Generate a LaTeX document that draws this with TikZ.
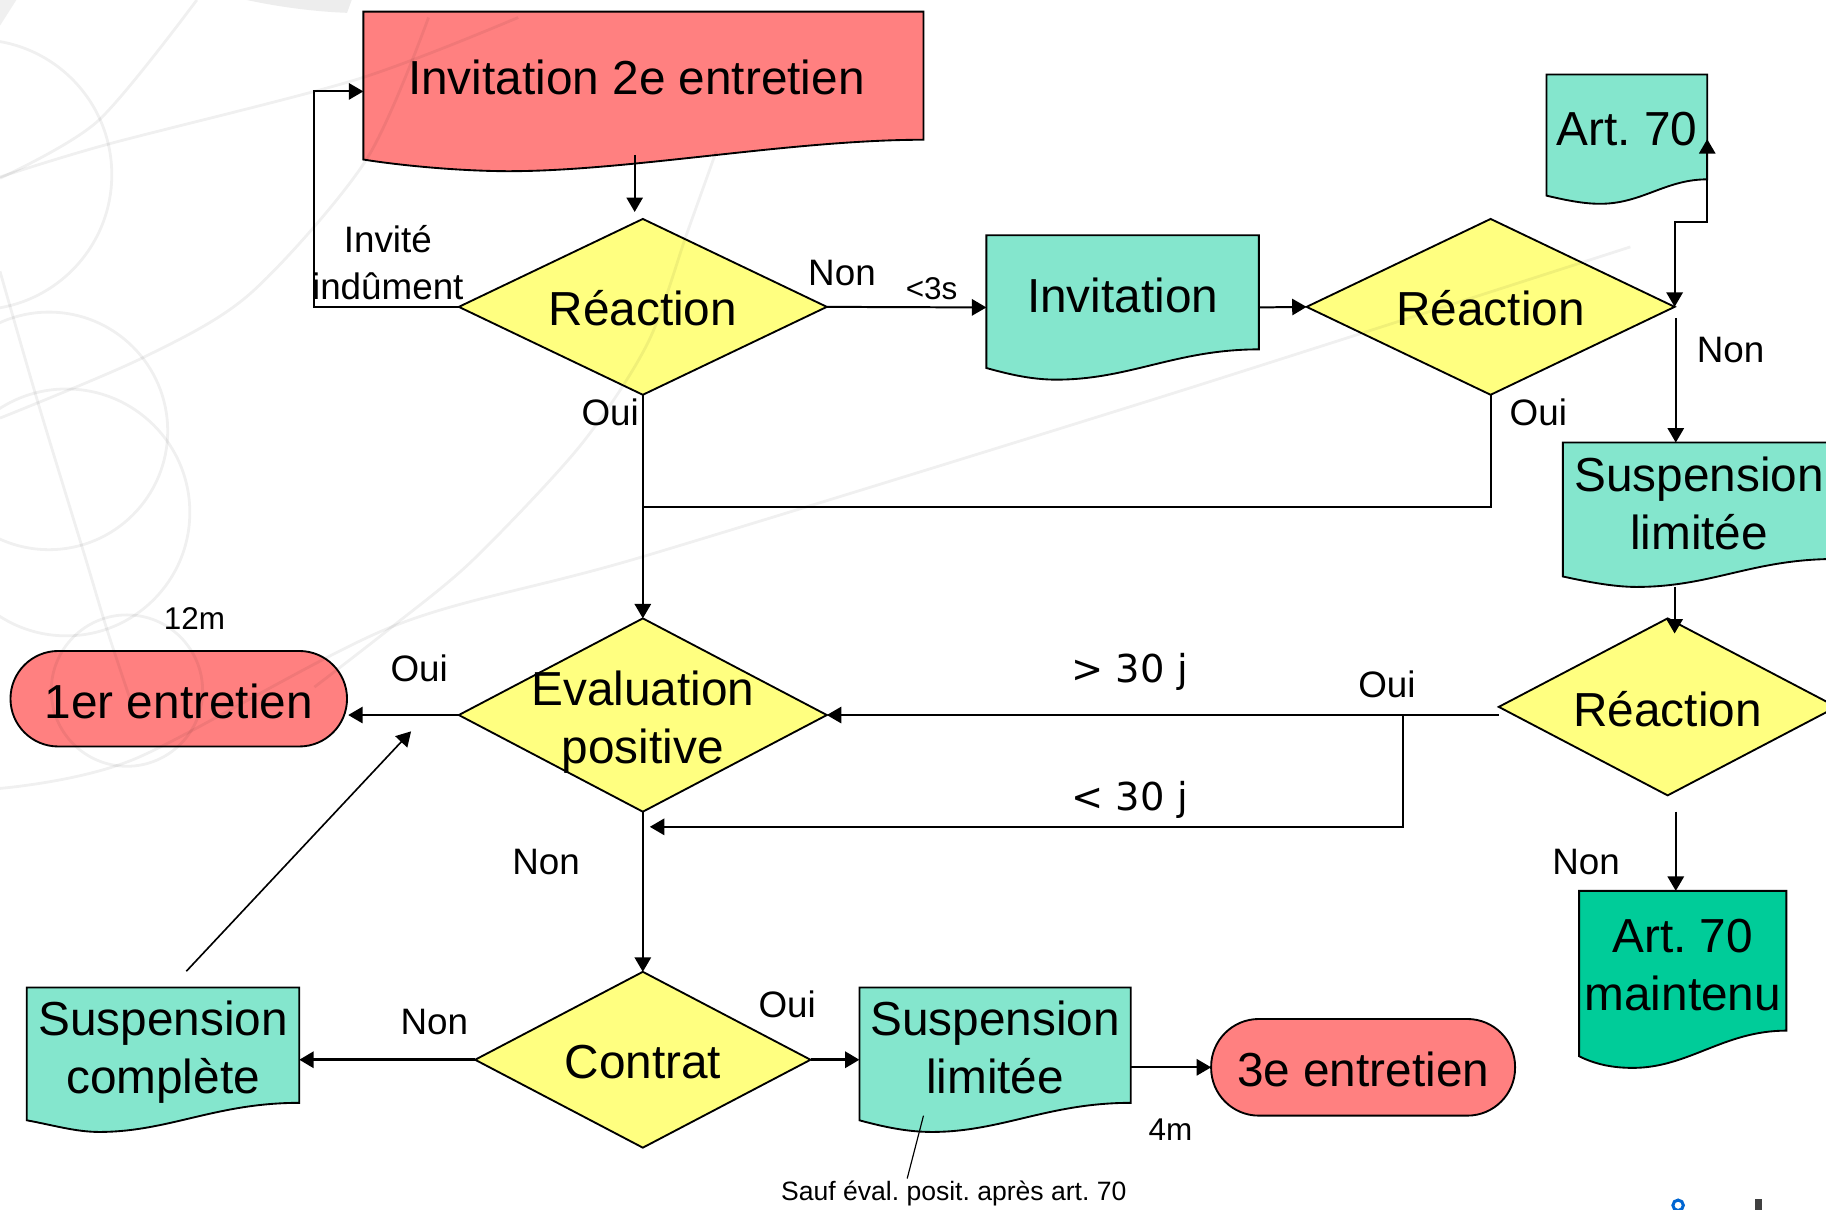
\documentclass[tikz,border=0pt]{standalone}
\usepackage{fontspec}
\setmainfont{Liberation Sans}
\newfontfamily\dvs{DejaVu Sans}
\usetikzlibrary{arrows.meta,shapes.geometric}
\definecolor{cred}{HTML}{FF8080}
\definecolor{cyel}{HTML}{FFFF80}
\definecolor{cteal}{HTML}{84E6CD}
\definecolor{cgreen}{HTML}{00CC99}
\definecolor{cblue}{HTML}{0066D2}
\frenchspacing
\newcommand\lbl[3][0pt]{\makebox[0pt]{\hspace*{#1}\raisebox{#2}[0pt][0pt]{\begin{tabular}[t]{@{}c@{}}#3\end{tabular}}}}
\tikzset{
  bigfont/.style={font=\fontsize{20.5}{25}\selectfont},
  docshape/.style={draw=black,line width=.8pt,line join=miter},
  docbox/.style={rectangle,inner sep=0pt,outer sep=0pt,bigfont},
  dia/.style={diamond,draw=black,fill=cyel,line width=.8pt,inner sep=0pt,outer sep=0pt,bigfont},
  term/.style={rectangle,rounded corners=20.5pt,draw=black,fill=cred,line width=.8pt,inner sep=0pt,outer sep=0pt,bigfont},
  lab/.style={inner sep=0pt,anchor=base,font=\fontsize{15.8}{20}\selectfont},
  labs/.style={inner sep=0pt,anchor=base,font=\fontsize{13.5}{16}\selectfont},
  labt/.style={inner sep=0pt,anchor=base,font=\fontsize{11.4}{14}\selectfont},
  labm/.style={inner sep=0pt,anchor=base,font=\fontsize{16.5}{19}\selectfont\dvs},
  link/.style={draw=black,line width=.85pt},
  arr/.style={link,-{Triangle[length=6.2pt,width=7pt]}},
  arrb/.style={link,{Triangle[length=6.2pt,width=7pt]}-{Triangle[length=6.2pt,width=7pt]}},
  wm/.style={line width=1.2pt,black,opacity=.06},
}
\begin{document}
\begin{tikzpicture}[x=.5pt,y=-.5pt]
\useasboundingbox (0,0) rectangle (1568,1039);
\clip (0,0) rectangle (1568,1039);
\fill[white] (0,0) rectangle (1568,1039);

% document shapes
\path[docshape,fill=cred] (312,137) -- (312,10) -- (793,10) -- (793,120) .. controls (680,120) and (540,147) .. (437,147) .. controls (400,147) and (350,143) .. cycle;
\node[docbox,minimum width=240.5pt,minimum height=68.5pt] (doc1) at (552.5,78.5) {\lbl[-6pt]{-1.25pt}{Invitation 2e entretien}};

\path[docshape,fill=cteal] (1328,168) -- (1328,64) -- (1466,64) -- (1466,154) .. controls (1430,154) and (1410,175) .. (1374,175) .. controls (1360,175) and (1345,172) .. cycle;
\node[docbox,minimum width=69pt,minimum height=55.5pt] (art) at (1397,119.5) {\lbl{-2.9pt}{Art. 70}};

\path[docshape,fill=cteal] (847,316) -- (847,202) -- (1081,202) -- (1081,300) .. controls (1010,300) and (970,326) .. (907,326) .. controls (885,326) and (865,321) .. cycle;
\node[docbox,minimum width=117pt,minimum height=62pt] (inv) at (964,264) {\lbl{-2.1pt}{Invitation}};

\path[docshape,fill=cteal] (1342,495) -- (1342,380) -- (1576,380) -- (1576,480) .. controls (1505,480) and (1470,504) .. (1405,504) .. controls (1385,504) and (1360,499) .. cycle;
\node[docbox,minimum width=117pt,minimum height=62pt] (sus1) at (1459,442) {\lbl{10.1pt}{Suspension\\limitée}};

\path[docshape,fill=cgreen] (1356,907) -- (1356,765) -- (1534,765) -- (1534,885) .. controls (1480,885) and (1450,917) .. (1402,917) .. controls (1385,917) and (1370,914) .. cycle;
\node[docbox,minimum width=89pt,minimum height=76pt] (am) at (1445,841) {\lbl{11.6pt}{Art. 70\\maintenu}};

\path[docshape,fill=cteal] (23,962) -- (23,848) -- (257,848) -- (257,947) .. controls (185,947) and (145,972) .. (85,972) .. controls (65,972) and (45,966) .. cycle;
\node[docbox,minimum width=117pt,minimum height=62pt] (sc) at (140,910) {\lbl{10.5pt}{Suspension\\complète}};

\path[docshape,fill=cteal] (738,962) -- (738,848) -- (971,848) -- (971,947) .. controls (900,947) and (860,972) .. (800,972) .. controls (780,972) and (760,968) .. cycle;
\node[docbox,minimum width=116.5pt,minimum height=62pt] (sl) at (854.5,910) {\lbl{10.5pt}{Suspension\\limitée}};

% decisions
\node[dia,minimum width=158pt,minimum height=75.5pt] (r1) at (552,263.5) {\lbl{-8pt}{Réaction}};
\node[dia,minimum width=158pt,minimum height=75.5pt] (r2) at (1280,263.5) {\lbl{-8pt}{Réaction}};
\node[dia,minimum width=145pt,minimum height=76pt] (r3) at (1432,607) {\lbl{-8.5pt}{Réaction}};
\node[dia,minimum width=158pt,minimum height=83pt] (ev) at (552,614) {\lbl{4.1pt}{Evaluation\\positive}};
\node[dia,minimum width=144pt,minimum height=75.5pt] (ct) at (552,910) {\lbl{-8pt}{Contrat}};

% terminators
\node[term,minimum width=144.5pt,minimum height=41pt] (er1) at (153.5,600) {\lbl{-8.4pt}{1er entretien}};
\node[term,minimum width=130.5pt,minimum height=41.5pt] (e3) at (1170.5,916.5) {\lbl{-8.15pt}{3e entretien}};

% free connector ends
\coordinate (d1out) at (545,133);
\coordinate (r1in) at (545,182);
\coordinate (loop) at (269.5,170);
\coordinate (mid) at (1450,191);
\coordinate (r2out) at (1439,273);
\coordinate (sus1in) at (1439,380);
\coordinate (join) at (552,435);
\coordinate (sus1out) at (1438,504);
\coordinate (r3in) at (1438,544);
\coordinate (r3w) at (1287,614);
\coordinate (split) at (1205,614);
\coordinate (evback) at (558,710);
\coordinate (er1in) at (299,614);
\coordinate (scout) at (160,834);
\coordinate (evfree) at (353,628);
\coordinate (r3out) at (1439,697);
\coordinate (amin) at (1439,765);
\coordinate (noteA) at (793,958);
\coordinate (noteB) at (779,1012);

% connectors
\draw[arr] (d1out) -- (r1in);
\draw[arr] (r1.west) -| (loop) |- (doc1.west);
\draw[arr] (r1.east) -- (inv.west);
\draw[arr] (inv.east) -- (r2.west);
\draw[arrb] (art.east) |- (mid) -| (r2.east);
\draw[arr] (r2out) -- (sus1in);
\draw[link] (r2.south) |- (join);
\draw[arr] (r1.south) -- (ev.north);
\draw[arr] (sus1out) -- (r3in);
\draw[arr] (r3w) -- (ev.east);
\draw[arr] (split) |- (evback);
\draw[arr] (ev.west) -- (er1in);
\draw[arr,line width=.7pt] (scout) -- (evfree);
\draw[arr] (ev.south) -- (ct.north);
\draw[arr,line width=1.15pt] (ct.west) -- (sc.east);
\draw[arr,line width=1.15pt] (ct.east) -- (sl.west);
\draw[arr] (sl.east |- e3.west) -- (e3.west);
\draw[arr] (r3out) -- (amin);
\draw[link,line width=.5pt] (noteA) -- (noteB);

% labels
\node[lab] (l1) at (333,236) {\lbl{9.5pt}{Invité\\indûment}};
\node[lab] (l2) at (723,245) {Non};
\node[labs] (l3) at (800,257) {<3s};
\node[lab] (l4) at (524,365.5) {Oui};
\node[lab] (l5) at (1486,311) {Non};
\node[lab] (l6) at (1321,365.5) {Oui};
\node[labs] (l7) at (167,540.5) {12m};
\node[lab] (l8) at (360,585) {Oui};
\node[labm] (l9) at (970,586) {> 30 j};
\node[lab] (l10) at (1191,599) {Oui};
\node[labm] (l11) at (970,696) {< 30 j};
\node[lab] (l12) at (469,750.5) {Non};
\node[lab] (l13) at (1362,750.5) {Non};
\node[lab] (l14) at (373,888) {Non};
\node[lab] (l15) at (676,874) {Oui};
\node[labs] (l16) at (1005,979.5) {4m};
\node[labt] (l17) at (819,1030.5) {Sauf éval. posit. après art. 70};

% faint background watermark
\draw[wm] (-20,150) circle (116);
\draw[wm] (42,370) circle (102);
\draw[wm] (57,440) circle (106);
\draw[wm] (109,593) circle (65);
\draw[wm] plot[smooth] coordinates {(0,233) (33,347) (73,478) (92,541) (115,610)};
\draw[wm] plot[smooth] coordinates {(0,677) (115,652) (337,538) (552,478) (1000,340) (1400,212)};
\draw[wm] plot[smooth] coordinates {(0,359) (123,307) (215,252) (314,138) (368,15)};
\draw[wm] plot[smooth] coordinates {(0,152) (92,124) (307,68) (445,15)};
\draw[wm] plot[smooth] coordinates {(0,153) (84,104) (169,0)};
\draw[wm] plot[smooth] coordinates {(270,590) (337,538) (406,481) (498,383) (556,295) (590,200) (615,130)};
\fill[black!7] (212,0) .. controls (240,6) and (270,10) .. (298,11) -- (302,0) -- cycle;
\fill[black!6] (0,22) -- (14,0) -- (0,0) -- cycle;

% cropped marks at the lower right edge
\draw[line width=1.3pt,cblue] (1441,1035) circle (4.5);
\draw[line width=1.3pt,cblue] (1441,1044) circle (4.5);
\fill[black!75] (1507,1030) rectangle (1513,1039);
\end{tikzpicture}
\end{document}
